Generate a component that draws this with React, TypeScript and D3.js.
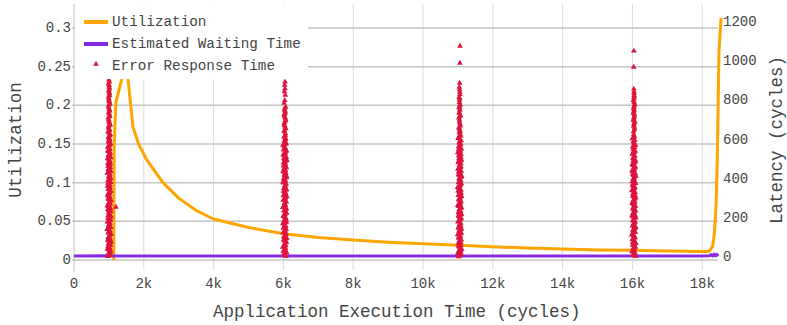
import React from "react";
import * as d3 from "d3";

// ---------- data ----------
const xTickValues = [0, 2000, 4000, 6000, 8000, 10000, 12000, 14000, 16000, 18000];
const xTickLabels = ["0", "2k", "4k", "6k", "8k", "10k", "12k", "14k", "16k", "18k"];
const leftTickValues = [0, 0.05, 0.1, 0.15, 0.2, 0.25, 0.3];
const leftTickLabels = ["0", "0.05", "0.1", "0.15", "0.2", "0.25", "0.3"];
const rightTickValues = [0, 200, 400, 600, 800, 1000, 1200];
const rightTickLabels = ["0", "200", "400", "600", "800", "1000", "1200"];

// Utilization: [cycle, utilization]
const utilization: [number, number][] = [
  [1140, 0], [1150, 0.145], [1200, 0.204], [1290, 0.22], [1375, 0.235], [1450, 0.28],
  [1500, 0.26], [1550, 0.233], [1690, 0.172], [1850, 0.15], [2090, 0.129], [2550, 0.1],
  [3000, 0.08], [3500, 0.064], [4000, 0.053], [5000, 0.042], [6000, 0.034], [7000, 0.029],
  [8000, 0.026], [9000, 0.023], [10000, 0.021], [11000, 0.019], [12000, 0.017],
  [13000, 0.0155], [14000, 0.0142], [15000, 0.013], [16000, 0.0125], [17000, 0.0115],
  [18000, 0.011], [18200, 0.011], [18300, 0.018], [18350, 0.035], [18400, 0.074],
  [18430, 0.13], [18480, 0.27], [18540, 0.313],
];

// Estimated waiting time: [cycle, latency]
const waitingTime: [number, number][] = [
  [0, 5], [1000, 6], [1200, 5], [2000, 5], [6000, 5], [10000, 5], [14000, 5], [18000, 5],
  [18200, 6], [18260, 12], [18300, 5], [18340, 15], [18380, 6], [18420, 13], [18460, 5],
];

// Error response time: [cycle, latency]
const errorCluster1: [number, number][] = [
  [970, 3], [1035, 12], [1000, 20], [1055, 31], [955, 40], [1015, 48], [1045, 59], [985, 67], [1065, 78], [965, 86],
  [1025, 95], [1005, 104], [1060, 115], [980, 123], [1030, 132], [950, 141], [1050, 150], [995, 161], [1020, 170], [960, 178],
  [1040, 189], [975, 197], [1065, 206], [1010, 215], [990, 226], [1055, 234], [970, 243], [1025, 252], [955, 262], [1045, 271],
  [1000, 280], [1060, 290], [980, 298], [1030, 307], [965, 318], [1015, 326], [1050, 335], [990, 345], [1035, 354], [960, 362],
  [1005, 373], [1055, 381], [975, 390], [1040, 400], [995, 409], [1020, 418], [955, 428], [1060, 436], [985, 446], [1030, 455],
  [970, 464], [1045, 474], [1000, 483], [1015, 492], [960, 502], [1050, 511], [990, 521], [1035, 530], [975, 540], [1025, 550],
  [965, 561], [1010, 570], [1045, 581], [985, 592], [1020, 603], [995, 615], [1040, 626], [975, 640], [1015, 652], [990, 668],
  [1030, 680], [1000, 695], [980, 710], [1020, 724], [995, 740], [1010, 752], [985, 770], [1025, 786], [1000, 800], [990, 818],
  [1015, 834], [995, 850], [1005, 868], [985, 884], [1000, 904], [1010, 925], [995, 950], [1005, 980], [1200, 255],
];
const errorCluster1bX = [
  1020, 985, 1040, 1005, 1030, 975, 1010, 1045, 995, 1035, 980, 1015, 1050, 990, 1025, 970, 1040, 1000, 1030, 985,
  1045, 1010, 975, 1020, 1035, 995, 1050, 980, 1015, 1005, 1040, 990, 1025, 970, 1030, 1000, 1045, 985, 1010, 1035,
  975, 1020, 995, 1050, 1005, 1030, 980, 1025, 990, 1040, 1010, 970, 1035, 1000, 1045, 985, 1015, 1030, 975, 1020,
  995, 1040, 1005, 1025, 985, 1030, 1000, 1015, 990, 1035, 1010, 995, 1020, 1005, 1025, 1000, 1015, 1010, 1000, 1020,
  1005, 1015, 1010, 1015,
];
const errorCluster1bLatency = [
  8, 16, 25, 35, 44, 53, 63, 72, 82, 90, 99, 109, 119, 127, 136, 145, 155, 165, 174, 183,
  193, 201, 210, 220, 230, 238, 247, 257, 266, 275, 285, 294, 302, 312, 322, 330, 340, 349, 358, 367,
  377, 385, 395, 404, 413, 423, 432, 441, 450, 459, 469, 478, 487, 497, 506, 516, 525, 535, 545, 555,
  565, 575, 586, 597, 609, 620, 633, 646, 660, 674, 688, 702, 717, 732, 746, 761, 778, 793, 809, 826,
  842, 859, 876, 894,
];
const errorCluster2: [number, number][] = [
  [6075, 4], [6020, 11], [6095, 22], [5995, 30], [6050, 41], [5980, 50], [6065, 58], [6035, 69], [6085, 77], [6005, 88],
  [6100, 96], [6025, 105], [6060, 116], [5990, 124], [6040, 133], [6080, 143], [6010, 151], [6055, 160], [5985, 171], [6090, 179],
  [6030, 188], [6070, 198], [6000, 207], [6045, 217], [6095, 225], [6015, 235], [6075, 244], [5980, 253], [6060, 263], [6035, 272],
  [6085, 281], [5995, 291], [6050, 300], [6100, 309], [6020, 319], [6065, 327], [6005, 337], [6090, 346], [6030, 355], [6040, 364],
  [6080, 374], [5985, 383], [6055, 392], [6010, 401], [6095, 411], [6025, 420], [6070, 430], [5990, 438], [6045, 448], [6085, 457],
  [6000, 466], [6060, 476], [6035, 485], [6100, 494], [6015, 504], [6075, 513], [5995, 523], [6050, 532], [6090, 542], [6020, 551],
  [6040, 561], [5985, 571], [6080, 582], [6030, 593], [6065, 605], [6055, 620], [6020, 640], [6070, 655], [6030, 672], [6045, 690],
  [6060, 705], [6025, 722], [6050, 735], [6035, 750], [6065, 766], [6020, 786], [6040, 800], [6055, 827], [6030, 845], [6045, 860],
  [6035, 878], [6050, 894],
];
const errorCluster2bX = [
  6050, 6015, 6070, 6035, 6060, 6005, 6040, 6075, 6025, 6065, 6010, 6045, 6080, 6020, 6055, 6000, 6070, 6030, 6060, 6015,
  6075, 6040, 6005, 6050, 6065, 6025, 6080, 6010, 6045, 6035, 6070, 6020, 6055, 6000, 6060, 6030, 6075, 6015, 6040, 6065,
  6005, 6050, 6025, 6080, 6035, 6060, 6010, 6055, 6020, 6070, 6040, 6000, 6065, 6030, 6075, 6015, 6045, 6060, 6005, 6050,
  6025, 6070, 6035, 6055, 6015, 6060, 6030, 6045, 6020, 6065, 6040, 6025, 6050, 6035,
];
const errorCluster2bLatency = [
  8, 17, 26, 36, 46, 54, 64, 73, 83, 92, 101, 111, 120, 129, 138, 147, 156, 166, 175, 184,
  193, 203, 212, 221, 230, 240, 249, 258, 268, 277, 286, 296, 305, 314, 323, 332, 342, 351, 360, 369,
  379, 388, 397, 406, 416, 425, 434, 443, 453, 462, 471, 481, 490, 499, 509, 518, 528, 537, 547, 556,
  566, 577, 588, 599, 612, 630, 648, 664, 681, 698, 714, 728, 743, 758,
];
const errorCluster3: [number, number][] = [
  [11020, 2], [11095, 13], [10995, 21], [11065, 32], [11110, 39], [11040, 51], [11085, 60], [11005, 68], [11055, 79], [11100, 87],
  [11025, 97], [11070, 106], [10990, 114], [11090, 125], [11035, 134], [11105, 142], [11015, 152], [11050, 162], [11080, 169], [11000, 180],
  [11060, 190], [11095, 199], [11030, 208], [11110, 216], [11010, 227], [11075, 236], [11045, 245], [11100, 254], [10995, 264], [11065, 273],
  [11085, 282], [11020, 292], [11050, 301], [11105, 310], [11035, 320], [11090, 328], [11005, 338], [11070, 347], [10990, 356], [11055, 366],
  [11100, 375], [11025, 384], [11080, 393], [11040, 403], [11110, 412], [11015, 421], [11060, 431], [11095, 439], [11000, 449], [11075, 458],
  [11045, 467], [11085, 477], [11010, 486], [11105, 495], [11030, 505], [11050, 514], [11090, 524], [10995, 533], [11065, 543], [11100, 552],
  [11020, 562], [11070, 572], [11040, 583], [11095, 594], [11005, 606], [11080, 618], [11060, 640], [11035, 655], [11070, 670], [11045, 690],
  [11025, 710], [11065, 725], [11040, 738], [11055, 750], [11030, 765], [11060, 780], [11045, 801], [11035, 817], [11055, 842], [11040, 868],
  [11050, 888], [11055, 990], [11060, 1077],
];
const errorCluster3bX = [
  11060, 11025, 11080, 11045, 11070, 11015, 11050, 11085, 11035, 11075, 11020, 11055, 11090, 11030, 11065, 11010, 11080, 11040, 11070, 11025,
  11085, 11050, 11015, 11060, 11075, 11035, 11090, 11020, 11055, 11045, 11080, 11030, 11065, 11010, 11070, 11040, 11085, 11025, 11050, 11075,
  11015, 11060, 11035, 11090, 11045, 11070, 11020, 11065, 11030, 11080, 11050, 11010, 11075, 11040, 11085, 11025, 11055, 11070, 11015, 11060,
  11035, 11080, 11045, 11065, 11025, 11070, 11040, 11055, 11030, 11060, 11045, 11055, 11040, 11050, 11060, 11045, 11050, 11055, 11045,
];
const errorCluster3bLatency = [
  7, 17, 27, 36, 45, 55, 64, 74, 83, 92, 102, 110, 120, 129, 138, 147, 157, 166, 175, 185,
  195, 204, 212, 222, 231, 241, 250, 259, 268, 278, 287, 297, 305, 315, 324, 333, 342, 352, 361, 370,
  380, 389, 398, 408, 417, 426, 435, 444, 454, 463, 472, 482, 491, 500, 510, 519, 529, 538, 548, 557,
  567, 578, 589, 600, 612, 625, 635, 648, 662, 680, 700, 718, 735, 758, 772, 790, 810, 830, 855,
];
const errorCluster4: [number, number][] = [
  [16090, 5], [16025, 14], [16065, 23], [15990, 29], [16045, 42], [16080, 49], [16005, 61], [16100, 70], [16035, 76], [15995, 89],
  [16070, 98], [16050, 107], [15980, 113], [16085, 126], [16020, 135], [16055, 144], [16095, 153], [16000, 159], [16040, 172], [16075, 181],
  [16015, 187], [16100, 200], [15985, 209], [16060, 218], [16030, 224], [16090, 237], [16010, 246], [16045, 255], [16085, 261], [15990, 274],
  [16065, 283], [16025, 289], [16095, 302], [16005, 311], [16050, 317], [16080, 329], [15980, 339], [16040, 348], [16070, 357], [16020, 365],
  [16090, 376], [15995, 385], [16055, 394], [16035, 402], [16100, 413], [16010, 422], [16075, 429], [15985, 440], [16060, 450], [16085, 459],
  [16030, 468], [16000, 475], [16095, 487], [16045, 496], [16015, 503], [16070, 515], [15990, 525], [16050, 534], [16080, 541], [16025, 553],
  [16005, 563], [16090, 570], [16040, 584], [16065, 595], [15995, 604], [16055, 617], [16030, 640], [16060, 660], [16040, 675], [16070, 690],
  [16035, 705], [16055, 720], [16025, 735], [16050, 750], [16040, 765], [16065, 780], [16030, 800], [16050, 817], [16045, 835], [16040, 858],
  [16035, 970], [16040, 1052],
];
const errorCluster4bX = [
  16030, 16065, 16010, 16050, 16020, 16075, 16040, 16005, 16060, 16025, 16070, 16035, 16000, 16055, 16015, 16080, 16045, 16025, 16065, 16010,
  16050, 16035, 16075, 16005, 16060, 16040, 16020, 16070, 16030, 16055, 16015, 16065, 16045, 16080, 16010, 16050, 16025, 16060, 16035, 16000,
  16070, 16045, 16020, 16055, 16030, 16075, 16015, 16050, 16040, 16065, 16005, 16060, 16025, 16070, 16035, 16050, 16020, 16045, 16030, 16060,
  16040, 16055, 16030, 16050, 16045, 16035, 16055, 16040, 16050, 16030, 16045, 16055, 16040, 16035, 16050, 16045, 16040, 16050, 16045,
];
const errorCluster4bLatency = [
  9, 18, 26, 35, 45, 55, 65, 73, 82, 93, 102, 110, 119, 130, 139, 148, 156, 165, 176, 184,
  193, 204, 213, 221, 230, 241, 250, 258, 267, 278, 286, 295, 306, 314, 323, 334, 343, 352, 361, 370,
  380, 390, 398, 407, 417, 425, 434, 445, 454, 463, 471, 481, 491, 499, 509, 519, 529, 537, 547, 558,
  566, 577, 590, 600, 610, 625, 650, 668, 684, 698, 712, 728, 742, 758, 772, 790, 808, 826, 845,
];

const legendLabels = ["Utilization", "Estimated Waiting Time", "Error Response Time"];

// ---------- styles ----------
const FONT = "'Courier New', Courier, 'Liberation Mono', monospace";
const ORANGE = "#FFA500";
const PURPLE = "#8A2BE2";
const RED = "#DC143C";
const TEXT = "#444";

const W = 787, H = 325;
const plot = { left: 74, right: 720, top: 4, bottom: 270 };

export default function App() {
  const x = d3.scaleLinear().domain([0, 18500]).range([74, 719.7]);
  const yL = d3.scaleLinear().domain([0, 0.3]).range([260, 28]);
  const yR = d3.scaleLinear().domain([0, 1200]).range([257, 22]);

  const utilLine = d3.line<[number, number]>().x(d => x(d[0])).y(d => yL(d[1]));
  const waitLine = d3.line<[number, number]>().x(d => x(d[0])).y(d => yR(d[1]));
  const tri = d3.symbol().type(d3.symbolTriangle).size(14)() as string;
  const allErrors = [
    ...errorCluster1, ...(d3.zip(errorCluster1bX, errorCluster1bLatency) as [number, number][]),
    ...errorCluster2, ...(d3.zip(errorCluster2bX, errorCluster2bLatency) as [number, number][]),
    ...errorCluster3, ...(d3.zip(errorCluster3bX, errorCluster3bLatency) as [number, number][]),
    ...errorCluster4, ...(d3.zip(errorCluster4bX, errorCluster4bLatency) as [number, number][]),
  ];

  return (
    <svg width={W} height={H} style={{ position: "absolute", left: 0, top: 0, background: "#fff" }}
      fontFamily={FONT}>
      <defs>
        <clipPath id="plotclip">
          <rect x={plot.left} y={plot.top} width={plot.right - plot.left + 3} height={plot.bottom - plot.top} />
        </clipPath>
      </defs>
      {/* vertical grid */}
      {xTickValues.filter(v => v > 0).map(v => (
        <line key={"vg" + v} x1={x(v)} x2={x(v)} y1={plot.top} y2={plot.bottom} stroke="#dcdcdc" strokeWidth={1} />
      ))}
      {/* horizontal grid */}
      {leftTickValues.map(v => (
        <line key={"hg" + v} x1={plot.left - 2} x2={718} y1={yL(v)} y2={yL(v)} stroke="#c4c4c4" strokeWidth={1.5} />
      ))}
      {/* left axis line */}
      <line x1={plot.left} x2={plot.left} y1={plot.top} y2={272} stroke="#bdbdbd" strokeWidth={1} />

      {/* tick labels */}
      {leftTickValues.map((v, i) => (
        <text key={"lt" + v} x={71} y={yL(v)} textAnchor="end" dominantBaseline="central" fontSize={14} fill={TEXT}>
          {leftTickLabels[i]}
        </text>
      ))}
      {rightTickValues.map((v, i) => (
        <text key={"rt" + v} x={723} y={yR(v)} textAnchor="start" dominantBaseline="central" fontSize={14} fill={TEXT}>
          {rightTickLabels[i]}
        </text>
      ))}
      {xTickValues.map((v, i) => (
        <text key={"xt" + v} x={x(v)} y={284} textAnchor="middle" dominantBaseline="central" fontSize={14} fill={TEXT}>
          {xTickLabels[i]}
        </text>
      ))}

      {/* axis titles */}
      <text x={(x(0) + x(18500)) / 2} y={312} textAnchor="middle" dominantBaseline="central" fontSize={17.5} fill={TEXT}>
        Application Execution Time (cycles)
      </text>
      <text transform={`translate(16,140) rotate(-90)`} textAnchor="middle" dominantBaseline="central" fontSize={17.5} fill={TEXT}>
        Utilization
      </text>
      <text transform={`translate(777,140) rotate(-90)`} textAnchor="middle" dominantBaseline="central" fontSize={17.5} fill={TEXT}>
        Latency (cycles)
      </text>

      {/* data */}
      <g clipPath="url(#plotclip)">
        <path d={utilLine(utilization) || ""} fill="none" stroke={ORANGE} strokeWidth={3} strokeLinejoin="round" />
        <path d={waitLine(waitingTime) || ""} fill="none" stroke={PURPLE} strokeWidth={3} strokeLinejoin="round" />
        {allErrors.map((d, i) => (
          <path key={"e" + i} d={tri} transform={`translate(${x(d[0])},${yR(d[1])})`} fill={RED} />
        ))}
      </g>

      {/* legend */}
      <rect x={75} y={5} width={233} height={74} fill="#fff" />
      <line x1={84} x2={108} y1={22} y2={22} stroke={ORANGE} strokeWidth={4} />
      <line x1={84} x2={108} y1={44} y2={44} stroke={PURPLE} strokeWidth={4} />
      <path d={tri} transform="translate(96,64)" fill={RED} />
      {legendLabels.map((l, i) => (
        <text key={l} x={112} y={22 + i * 22} dominantBaseline="central" fontSize={14.3} fill={TEXT}>{l}</text>
      ))}
    </svg>
  );
}
